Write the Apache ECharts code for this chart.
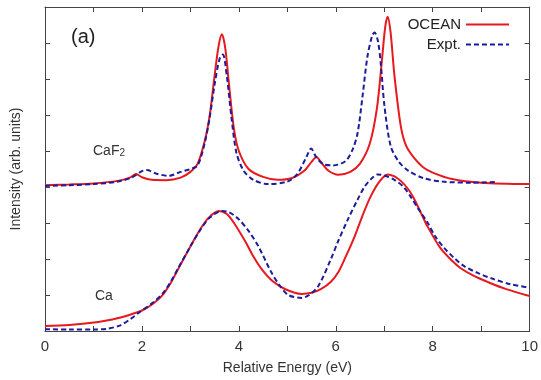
<!DOCTYPE html>
<html>
<head>
<meta charset="utf-8">
<script src="https://cdn.jsdelivr.net/npm/echarts@6/dist/echarts.min.js"></script>
<style>
  html, body { margin: 0; padding: 0; background: #fff; }
  #chart { width: 541px; height: 380px; }
</style>
</head>
<body>
<div id="chart"></div>
<script>
// Relative energy (eV) vs. intensity, CaF2 spectra offset above the Ca spectra
const xTickLabels = ['0', '2', '4', '6', '8', '10'];

const caf2Ocean = [
  [0, 4.05], [0.5, 4.07], [1.0, 4.10], [1.5, 4.17], [1.75, 4.26], [1.88, 4.36],
  [2.0, 4.27], [2.2, 4.2], [2.5, 4.19], [2.8, 4.26], [3.0, 4.42], [3.15, 4.65],
  [3.3, 5.3], [3.4, 6.0], [3.5, 7.1], [3.58, 7.9], [3.65, 8.24],
  [3.72, 7.85], [3.8, 6.8], [3.9, 5.6], [4.0, 5.0], [4.2, 4.5], [4.5, 4.28],
  [4.8, 4.2], [5.1, 4.25], [5.35, 4.45], [5.5, 4.7], [5.6, 4.83], [5.7, 4.68],
  [5.85, 4.45], [6.05, 4.34], [6.3, 4.42], [6.5, 4.65], [6.7, 5.2], [6.85, 6.2],
  [6.95, 7.5], [7.02, 8.45], [7.07, 8.73], [7.13, 8.3], [7.21, 7.1], [7.34, 5.7],
  [7.45, 5.15], [7.62, 4.8], [7.8, 4.55], [8.0, 4.4], [8.4, 4.22], [9.0, 4.12], [10, 4.08]
];

const caf2Expt = [
  [0, 4.03], [0.5, 4.05], [1.0, 4.08], [1.5, 4.15], [1.8, 4.27], [2.0, 4.44],
  [2.1, 4.47], [2.3, 4.37], [2.55, 4.31], [2.8, 4.42], [3.0, 4.5], [3.15, 4.6],
  [3.3, 5.25], [3.4, 5.95], [3.5, 6.85], [3.6, 7.55], [3.67, 7.68], [3.75, 7.1],
  [3.85, 5.9], [3.95, 4.95], [4.1, 4.45], [4.3, 4.2], [4.6, 4.08], [5.0, 4.15],
  [5.2, 4.35], [5.4, 4.85], [5.49, 5.07], [5.6, 4.82], [5.75, 4.63], [5.95, 4.6],
  [6.2, 4.72], [6.35, 5.05], [6.45, 5.5], [6.55, 6.5], [6.65, 7.6], [6.75, 8.2],
  [6.8, 8.29], [6.87, 8.05], [6.93, 7.4], [7.0, 6.3], [7.13, 5.15], [7.3, 4.7],
  [7.5, 4.45], [7.8, 4.25], [8.2, 4.15], [8.8, 4.12], [9.3, 4.14]
];

const caOcean = [
  [0, 0.14], [0.5, 0.17], [0.92, 0.22], [1.3, 0.3], [1.6, 0.39], [2.0, 0.57],
  [2.2, 0.73], [2.42, 0.99], [2.6, 1.35], [2.77, 1.78], [3.0, 2.35], [3.2, 2.82],
  [3.38, 3.15], [3.59, 3.33], [3.75, 3.25], [3.9, 3.0], [4.14, 2.47], [4.3, 2.07],
  [4.47, 1.72], [4.7, 1.38], [4.96, 1.16], [5.29, 1.03], [5.5, 1.06], [5.7, 1.17],
  [5.9, 1.37], [6.05, 1.63], [6.2, 2.05], [6.39, 2.63], [6.55, 3.2], [6.72, 3.74],
  [6.9, 4.15], [7.07, 4.35], [7.2, 4.3], [7.34, 4.17], [7.5, 3.93], [7.62, 3.66],
  [7.75, 3.3], [7.89, 2.91], [8.16, 2.3], [8.4, 1.95], [8.57, 1.75], [8.85, 1.53],
  [9.12, 1.37], [9.5, 1.17], [10, 0.97]
];

const caExpt = [
  [0, 0.05], [0.5, 0.04], [1.0, 0.04], [1.27, 0.06], [1.54, 0.15], [1.75, 0.32],
  [1.95, 0.52], [2.2, 0.76], [2.42, 1.03], [2.6, 1.38], [2.77, 1.8], [3.0, 2.35],
  [3.2, 2.8], [3.4, 3.15], [3.65, 3.33], [3.8, 3.3], [4.0, 3.1], [4.2, 2.78],
  [4.4, 2.36], [4.67, 1.63], [4.85, 1.25], [5.02, 1.0], [5.29, 0.92], [5.45, 1.0],
  [5.64, 1.25], [5.9, 2.0], [6.05, 2.5], [6.25, 3.1], [6.45, 3.65], [6.6, 4.02],
  [6.75, 4.25], [6.86, 4.35], [7.0, 4.32], [7.21, 4.2], [7.4, 4.0], [7.54, 3.74],
  [7.7, 3.4], [7.89, 3.02], [8.05, 2.63], [8.24, 2.3], [8.45, 2.02], [8.65, 1.8],
  [8.95, 1.6], [9.26, 1.44], [9.6, 1.3], [10, 1.2]
];

const RED = '#e8191e';
const BLUE = '#1c1c9c';
const FONT = '"Liberation Sans", Arial, sans-serif';
const AXIS = '#444';

const chart = echarts.init(document.getElementById('chart'), null, { renderer: 'canvas' });

function frameAxis(extra) {
  return Object.assign({
    type: 'value',
    axisLine: { show: true, onZero: false, lineStyle: { color: AXIS, width: 1 } },
    axisTick: { show: true, inside: true, length: 5, lineStyle: { color: AXIS } },
    splitLine: { show: false }
  }, extra);
}

const ocean = { type: 'line', showSymbol: false, symbol: 'none', smooth: 0.3,
  lineStyle: { color: RED, width: 2 }, itemStyle: { color: RED }, z: 3 };
const expt = { type: 'line', showSymbol: false, symbol: 'none', smooth: 0.3,
  lineStyle: { color: BLUE, width: 2, type: [5, 3] }, itemStyle: { color: BLUE }, z: 4 };

chart.setOption({
  animation: false,
  backgroundColor: '#fff',
  grid: { left: 45, right: 8, top: 7, bottom: 48, containLabel: false },
  legend: {
    orient: 'vertical',
    right: 26,
    top: 12,
    align: 'right',
    itemWidth: 43,
    itemHeight: 10,
    itemGap: 5,
    itemStyle: { opacity: 0 },
    textStyle: { fontFamily: FONT, fontSize: 15, color: '#222' },
    data: ['OCEAN', 'Expt.']
  },
  xAxis: [
    frameAxis({
      min: 0, max: 10, interval: 1, position: 'bottom',
      name: 'Relative Energy (eV)', nameLocation: 'middle', nameGap: 30,
      nameTextStyle: { fontFamily: FONT, fontSize: 14, color: '#333' },
      axisLabel: {
        fontFamily: FONT, fontSize: 15, color: '#333', margin: 8,
        formatter: v => xTickLabels.indexOf(String(v)) >= 0 ? String(v) : ''
      }
    }),
    frameAxis({ min: 0, max: 10, interval: 1, position: 'top', axisLabel: { show: false } })
  ],
  yAxis: [
    frameAxis({
      min: 0, max: 9, interval: 1, position: 'left',
      name: 'Intensity (arb. units)', nameLocation: 'middle', nameGap: 22,
      nameTextStyle: { fontFamily: FONT, fontSize: 14, color: '#333' },
      axisLabel: { show: false }
    }),
    frameAxis({ min: 0, max: 9, interval: 1, position: 'right', axisLabel: { show: false } })
  ],
  graphic: [
    { type: 'text', left: 71, top: 27, style: { text: '(a)', font: '20px ' + FONT, fill: '#222' } },
    { type: 'text', left: 93, top: 144, style: {
        text: '{m|CaF}{s|2}', rich: {
          m: { fontFamily: FONT, fontSize: 14, fill: '#333', verticalAlign: 'bottom' },
          s: { fontFamily: FONT, fontSize: 10, fill: '#333', padding: [6, 0, 0, 0] }
        }, fill: '#333' } },
    { type: 'text', left: 95, top: 289, style: { text: 'Ca', font: '14px ' + FONT, fill: '#333' } }
  ],
  series: [
    Object.assign({ name: 'OCEAN', data: caf2Ocean }, ocean),
    Object.assign({ name: 'Expt.', data: caf2Expt }, expt),
    Object.assign({ name: 'OCEAN', data: caOcean }, ocean),
    Object.assign({ name: 'Expt.', data: caExpt }, expt)
  ]
});
</script>
</body>
</html>
